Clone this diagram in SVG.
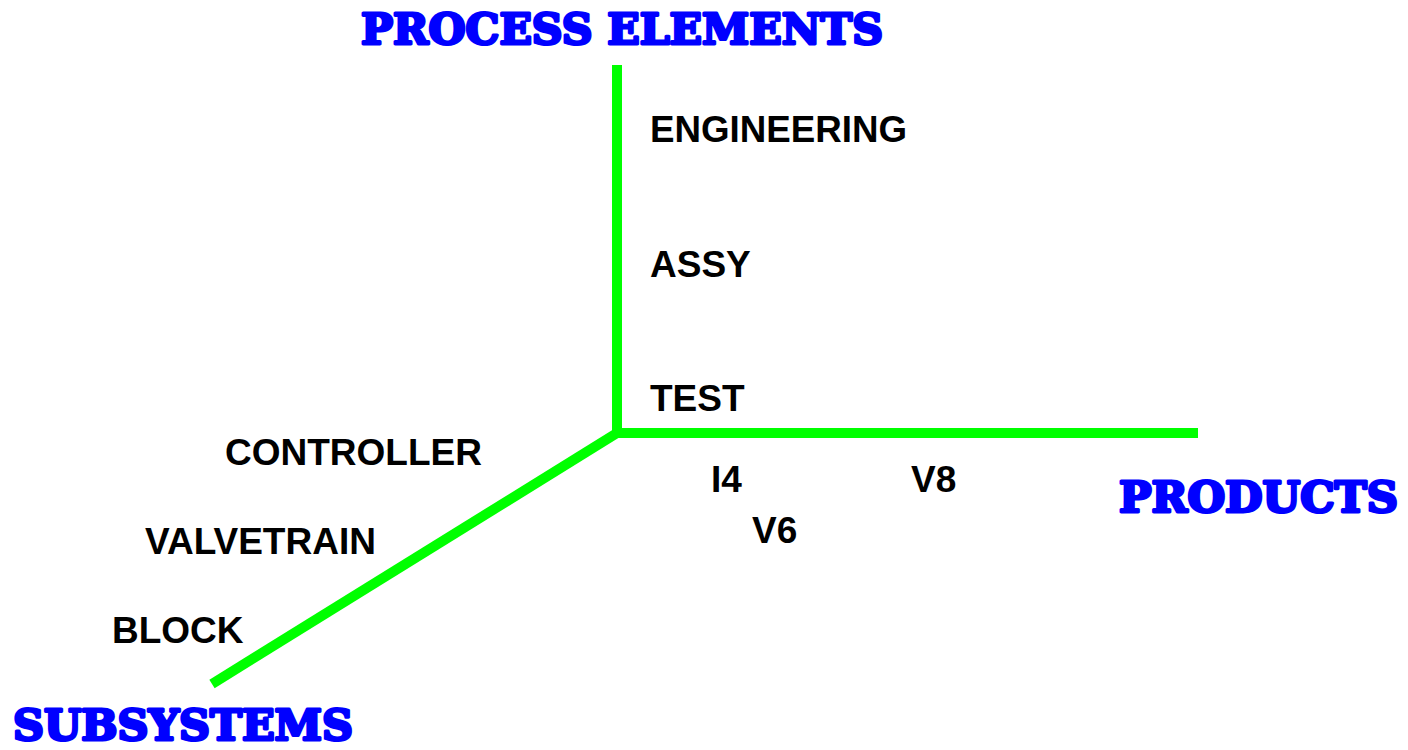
<svg xmlns="http://www.w3.org/2000/svg" width="1408" height="750" viewBox="0 0 1408 750">
<style>
.title{font-family:"DejaVu Serif","Liberation Serif",serif;font-weight:900;font-size:42px;fill:#0000ff;stroke:#0000ff;stroke-width:3;stroke-linejoin:round}
.lbl{font-family:"Liberation Sans",Arial,sans-serif;font-weight:bold;font-size:37px;fill:#000}
.axis{stroke:#00ff00;stroke-width:10;fill:none}
</style>
<rect width="1408" height="750" fill="#fff"/>
<g id="connectors">
<line class="axis" x1="617" y1="65" x2="617" y2="433"/>
<line class="axis" x1="612" y1="433" x2="1198" y2="433"/>
<line class="axis" x1="617" y1="433" x2="212" y2="684"/>
</g>
<g id="process-elements"><text class="title" x="361" y="44" textLength="522" lengthAdjust="spacingAndGlyphs">PROCESS ELEMENTS</text></g>
<g id="products"><text class="title" x="1119" y="512" textLength="279" lengthAdjust="spacingAndGlyphs">PRODUCTS</text></g>
<g id="subsystems"><text class="title" x="13" y="740" textLength="340" lengthAdjust="spacingAndGlyphs">SUBSYSTEMS</text></g>
<g id="engineering"><text class="lbl" x="650" y="142" textLength="257" lengthAdjust="spacingAndGlyphs">ENGINEERING</text></g>
<g id="assy"><text class="lbl" x="650" y="277">ASSY</text></g>
<g id="test"><text class="lbl" x="650" y="411">TEST</text></g>
<g id="controller"><text class="lbl" x="225" y="465">CONTROLLER</text></g>
<g id="valvetrain"><text class="lbl" x="145" y="554">VALVETRAIN</text></g>
<g id="block"><text class="lbl" x="112" y="643">BLOCK</text></g>
<g id="i4"><text class="lbl" x="711" y="492">I4</text></g>
<g id="v8"><text class="lbl" x="911" y="492">V8</text></g>
<g id="v6"><text class="lbl" x="752" y="543">V6</text></g>
</svg>
